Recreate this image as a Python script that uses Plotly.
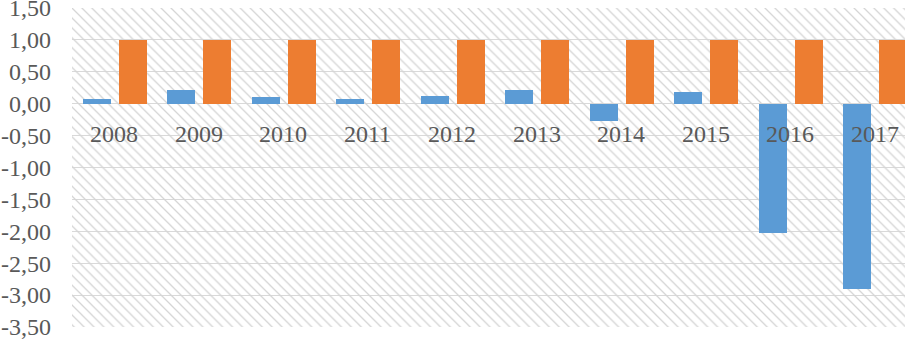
import plotly.graph_objects as go

years = ["2008", "2009", "2010", "2011", "2012", "2013", "2014", "2015", "2016", "2017"]
series_blue = [0.07, 0.22, 0.10, 0.07, 0.12, 0.21, -0.27, 0.19, -2.03, -2.91]
series_orange = [1.00] * 10
tick_vals = [1.5, 1.0, 0.5, 0.0, -0.5, -1.0, -1.5, -2.0, -2.5, -3.0, -3.5]
tick_text = ["1,50", "1,00", "0,50", "0,00", "-0,50", "-1,00", "-1,50", "-2,00", "-2,50", "-3,00", "-3,50"]

FONT = "Liberation Serif"
GREY_TXT = "#595959"

fig = go.Figure()

# hatched plot-area background
fig.add_trace(go.Bar(
    x=[years[0]], y=[tick_vals[0] - tick_vals[-1]], base=[tick_vals[-1]],
    offset=-0.5, width=len(years),
    marker=dict(color="#d4d4d4", line=dict(width=0),
                pattern=dict(shape="\\", size=7, solidity=0.18, fillmode="replace")),
    hoverinfo="skip", showlegend=False,
))

fig.add_trace(go.Bar(
    x=years, y=series_blue, offset=-0.37, width=0.33,
    marker=dict(color="#5B9BD5", line=dict(width=0)), showlegend=False,
))
fig.add_trace(go.Bar(
    x=years, y=series_orange, offset=0.055, width=0.33,
    marker=dict(color="#ED7D31", line=dict(width=0)), showlegend=False,
))

for i, yr in enumerate(years):
    fig.add_annotation(x=i, y=0, xref="x", yref="y", text=yr, showarrow=False,
                       yanchor="middle", yshift=-30,
                       font=dict(family=FONT, size=24, color=GREY_TXT))

fig.update_layout(
    width=905, height=339,
    margin=dict(l=72, r=0, t=8, b=12, autoexpand=False),
    paper_bgcolor="white", plot_bgcolor="white",
    barmode="overlay",
    bargap=0,
    font=dict(family=FONT),
)
fig.update_xaxes(type="category", categoryorder="array", categoryarray=years,
                 range=[-0.5, 9.36], showticklabels=False, showgrid=False,
                 zeroline=False, showline=False, automargin=False)
fig.update_yaxes(range=[tick_vals[-1] - 0.0001, tick_vals[0] + 0.0001],
                 tickvals=tick_vals, ticktext=tick_text,
                 showgrid=True, gridcolor="#d9d9d9", gridwidth=1.2,
                 zeroline=False, showline=False, automargin=False,
                 ticks="", ticklabelstandoff=20, ticklabeloverflow="allow",
                 tickfont=dict(family=FONT, size=24, color=GREY_TXT))

fig.write_html("out.html", config={"displayModeBar": False},
               post_script="document.body.style.margin='0';document.body.style.overflow='hidden';")
